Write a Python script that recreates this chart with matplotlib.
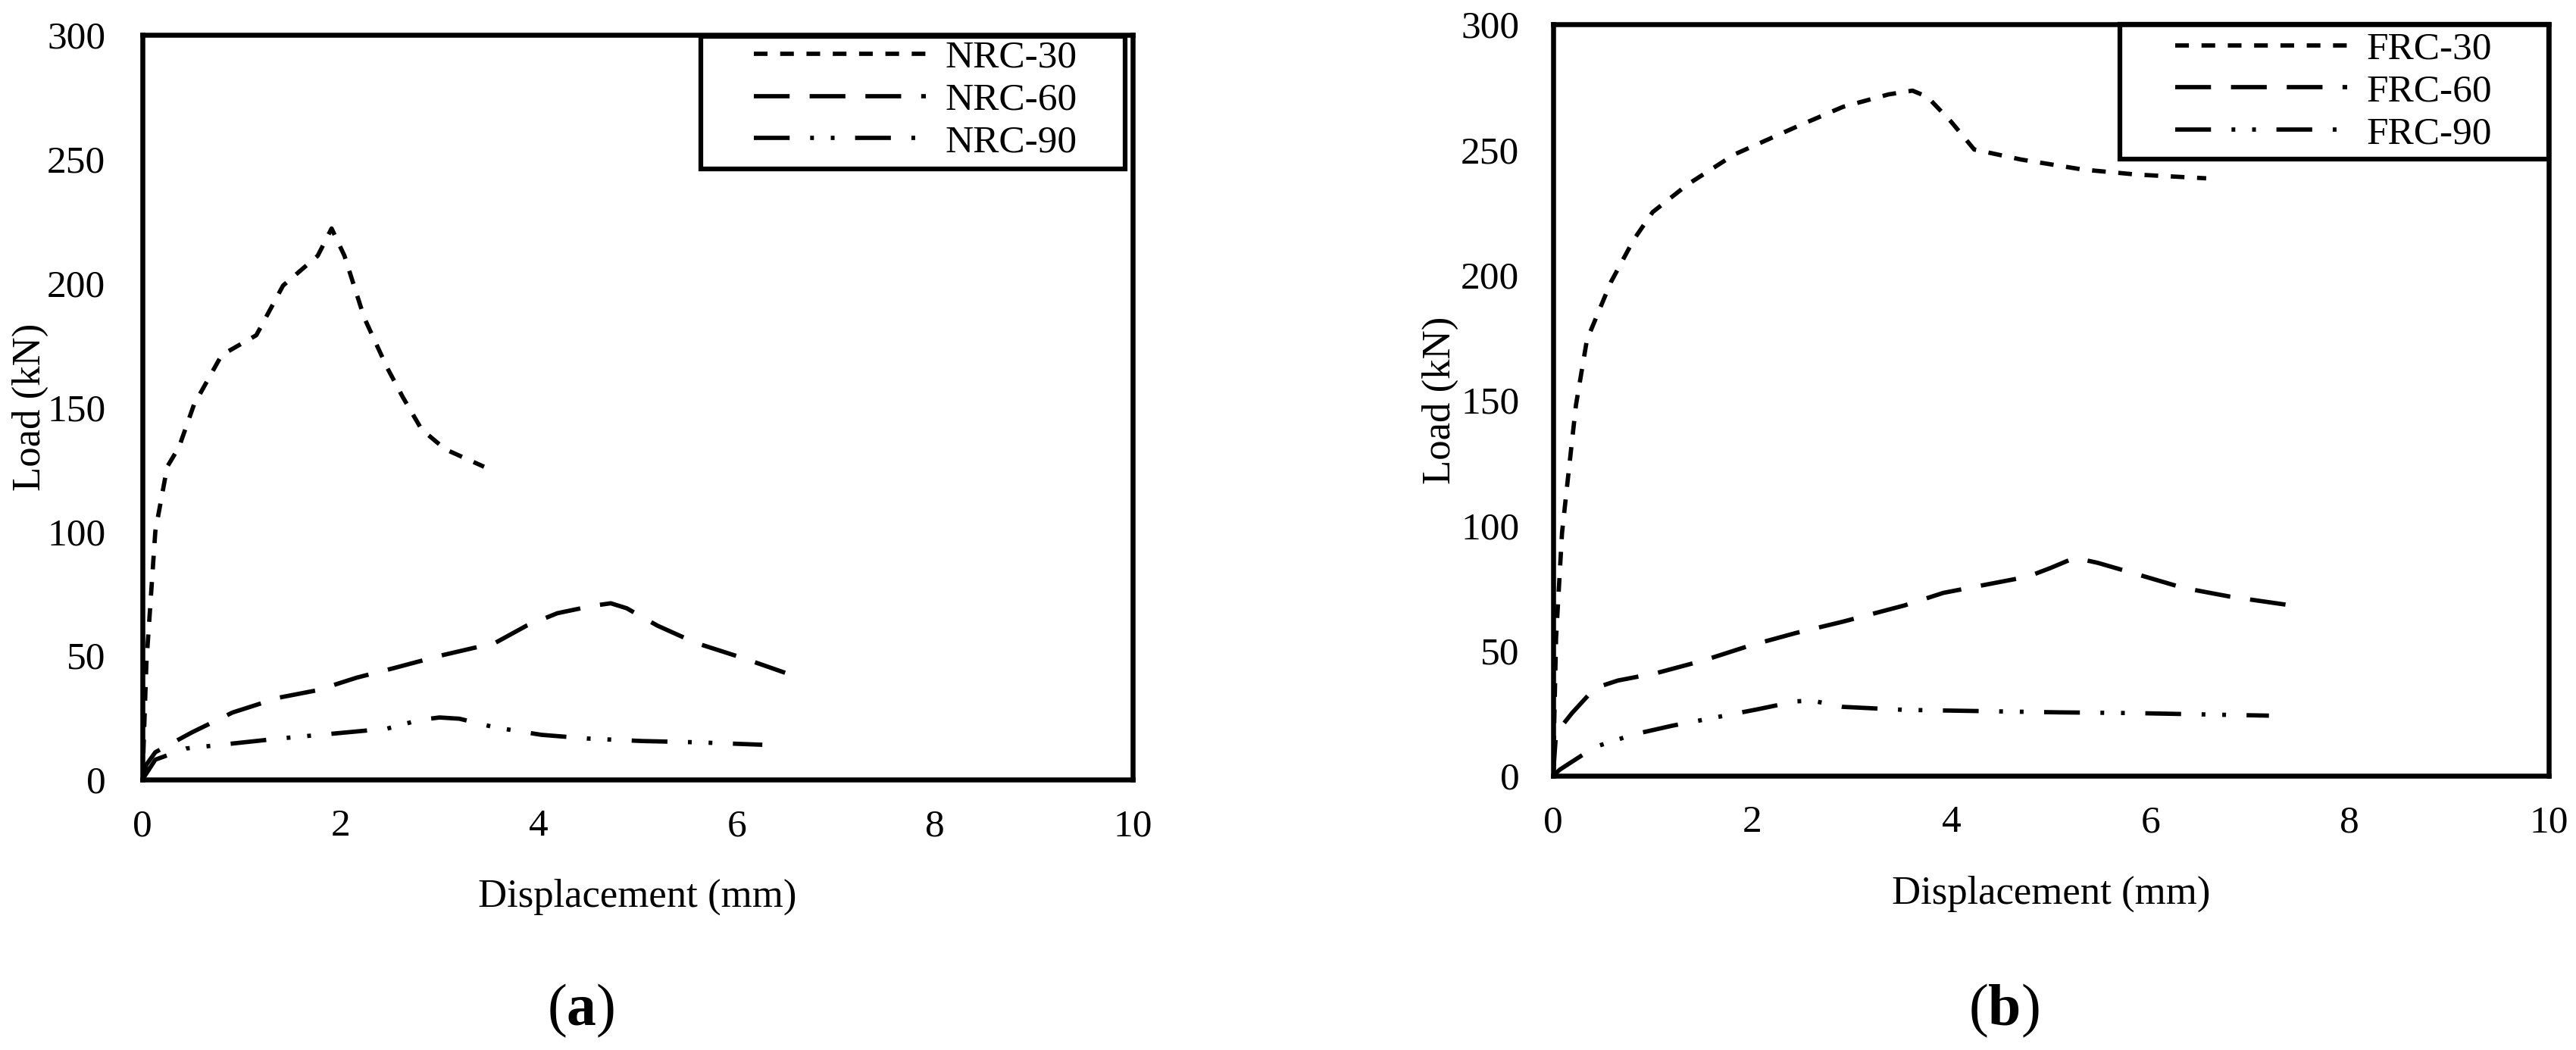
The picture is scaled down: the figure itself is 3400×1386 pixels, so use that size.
import matplotlib
matplotlib.use("Agg")
import matplotlib.pyplot as plt
from matplotlib.patches import Rectangle

plt.rcParams['font.family'] = ['Liberation Serif', 'DejaVu Serif']
plt.rcParams['mathtext.fontset'] = 'custom'
plt.rcParams['mathtext.rm'] = 'Liberation Serif'
plt.rcParams['mathtext.bf'] = 'Liberation Serif:bold'
plt.rcParams['lines.scale_dashes'] = False

# ---------------- data ----------------
x_ticks = [0, 2, 4, 6, 8, 10]
y_ticks = [0, 50, 100, 150, 200, 250, 300]

nrc30_x = [0, 0.04, 0.13, 0.25, 0.37, 0.52, 0.80, 1.15, 1.42, 1.77, 1.91, 2.04, 2.24, 2.47, 2.63, 2.82, 3.06, 3.45]
nrc30_y = [0, 47, 100, 126, 134, 151, 171, 179, 199, 211, 222, 211, 186, 166, 154, 141, 133, 126]

nrc60_x = [0, 0.04, 0.13, 0.5, 0.91, 1.38, 1.77, 2.16, 2.55, 3.02, 3.56, 3.88, 4.19, 4.55, 4.73, 4.89, 5.2, 5.59, 6.06, 6.49]
nrc60_y = [0, 6, 11, 19, 27, 33, 36, 41, 45, 50, 55, 62, 67, 70, 71, 69, 62, 55, 49, 43]

nrc90_x = [0, 0.13, 0.44, 0.91, 1.38, 1.93, 2.47, 2.8, 3.0, 3.2, 3.56, 4.03, 4.5, 5.05, 5.6, 6.26]
nrc90_y = [0, 8, 12.5, 14.5, 16.5, 18.5, 20.5, 24, 25, 24.5, 21, 18, 16.5, 15.5, 15, 14]

frc30_x = [0, 0.03, 0.09, 0.15, 0.23, 0.34, 0.58, 0.81, 1.0, 1.35, 1.82, 2.44, 2.91, 3.37, 3.61, 3.76, 4.0, 4.23, 4.7, 5.32, 5.86, 6.56]
frc30_y = [0, 55, 97, 119, 148, 174, 197, 214, 225, 236, 248, 259, 267, 272, 273.5, 271, 261, 250, 246, 242, 240, 238.5]

frc60_x = [0, 0.03, 0.19, 0.42, 0.65, 1.04, 1.51, 1.98, 2.44, 2.91, 3.53, 3.92, 4.31, 4.77, 5.0, 5.24, 5.47, 5.86, 6.33, 6.8, 7.5]
frc60_y = [0, 17, 25, 35, 38, 41, 46, 52, 57, 61.5, 68, 73, 76, 79.5, 83, 87, 85, 80.5, 75, 71.5, 67.5]

frc90_x = [0, 0.07, 0.42, 0.81, 1.2, 1.66, 2.05, 2.44, 2.6, 2.91, 3.53, 4.31, 5.09, 5.86, 6.64, 7.19]
frc90_y = [0, 2.5, 11.5, 16.5, 20, 23.5, 26.5, 29.7, 30, 27.5, 26.3, 25.8, 25.3, 25, 24.4, 24]

left_labels = ['NRC-30', 'NRC-60', 'NRC-90']
right_labels = ['FRC-30', 'FRC-60', 'FRC-90']
x_label = 'Displacement (mm)'
y_label = 'Load (kN)'
panel_tags = [r'($\mathbf{a}$)', r'($\mathbf{b}$)']

# ---------------- style ----------------
styles = [(0, (13, 12)), (0, (34, 19)), (0, (34, 19.5, 3.6, 16, 3.6, 19.5))]
LW = 4.1
SPINE_LW = 4.7

fig = plt.figure(figsize=(34, 13.86), dpi=100)
ax1 = fig.add_axes([0.0553, 0.2576, 0.3844, 0.7092])
ax2 = fig.add_axes([0.6029, 0.2612, 0.3865, 0.7157])


def setup(ax, series, labels, ypad, leg_anchor, frame):
    for (xs, ys), lab, ls in zip(series, labels, styles):
        ax.plot(xs, ys, color='black', lw=LW, linestyle=ls, label=lab,
                solid_capstyle='butt', dash_capstyle='butt')
    ax.set_xlim(0, 10)
    ax.set_ylim(0, 300)
    ax.set_xticks(x_ticks)
    ax.set_yticks(y_ticks)
    ax.tick_params(axis='both', length=0, labelsize=37)
    ax.tick_params(axis='y', pad=ypad)
    ax.tick_params(axis='x', pad=28)
    for s in ax.spines.values():
        s.set_linewidth(SPINE_LW)
        s.set_color('black')
    ax.set_xlabel(x_label, fontsize=38)
    ax.set_ylabel(y_label, fontsize=38)
    ax.xaxis.set_label_coords(0.5, -0.133)
    ax.yaxis.set_label_coords(-0.095, 0.5)
    ax.legend(loc='center left', bbox_to_anchor=leg_anchor, frameon=False,
              fontsize=37, handlelength=4.42, handletextpad=0.5,
              labelspacing=0.17, borderpad=0, borderaxespad=0)
    x0, y0, x1, y1 = frame
    ax.add_patch(Rectangle((x0, y0), x1 - x0, y1 - y0, transform=ax.transAxes,
                           fill=False, edgecolor='black', lw=4.5, clip_on=False, zorder=5))


setup(ax1, [(nrc30_x, nrc30_y), (nrc60_x, nrc60_y), (nrc90_x, nrc90_y)], left_labels,
      35, (0.6175, 0.9125), (0.5639, 0.820, 0.9923, 0.998))
setup(ax2, [(frc30_x, frc30_y), (frc60_x, frc60_y), (frc90_x, frc90_y)], right_labels,
      32, (0.6248, 0.9103), (0.5693, 0.8206, 1.0, 1.0))

fig.text(767 / 3400, 0.0375, panel_tags[0], ha='center', va='center', fontsize=56)
fig.text(2645 / 3400, 0.0375, panel_tags[1], ha='center', va='center', fontsize=56)

fig.savefig('out.png', dpi=100, facecolor='white')
